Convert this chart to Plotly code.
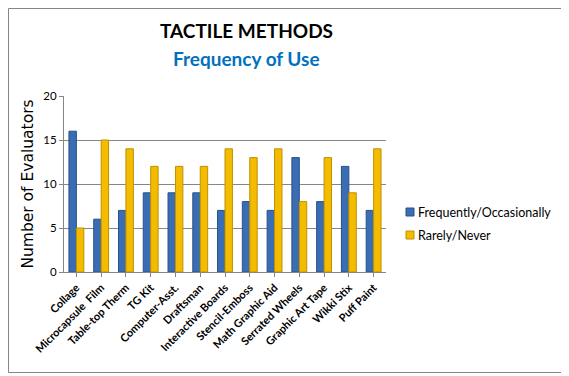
import plotly.graph_objects as go

categories = ["Collage", "Microcapsule  Film", "Table-top Therm", "TG Kit", "Computer-Asst.",
              "Draftsman", "Interactive Boards", "Stencil-Emboss", "Math Graphic Aid",
              "Serrated Wheels", "Graphic Art Tape", "Wikki Stix", "Puff Paint"]
series_names = ["Frequently/Occasionally", "Rarely/Never"]
frequent = [16, 6, 7, 9, 9, 9, 7, 8, 7, 13, 8, 12, 7]
rarely = [5, 15, 14, 12, 12, 12, 14, 13, 14, 8, 13, 9, 14]
y_ticks = [0, 5, 10, 15, 20]

colors = ["#3A6DB3", "#F3BC00"]
edges = ["#27518A", "#C09000"]

# page is rendered with an 8px body margin, so figure coords = page coords - 8
OFF = 8
W, H = 569 - OFF, 376 - OFF
L, T = 64 - OFF, 96 - OFF
PR, PB = 386 - OFF, 272 - OFF
R, B = W - PR, H - PB
pw, ph = PR - L, PB - T

def px(x):
    return (x - OFF - L) / pw

def py(y):
    return (PB - (y - OFF)) / ph

fig = go.Figure()
for name, vals, c, e in zip(series_names, [frequent, rarely], colors, edges):
    fig.add_trace(go.Bar(x=categories, y=vals, name=name,
                         marker=dict(color=c, line=dict(color=e, width=1))))

shapes = [dict(type="rect", xref="paper", yref="paper",
               x0=px(8.5), x1=px(566.5), y0=py(372.5), y1=py(8.5),
               line=dict(color="#868686", width=1), fillcolor="rgba(0,0,0,0)",
               layer="below")]
annotations = [
    dict(text="<b>TACTILE METHODS</b>", xref="paper", yref="paper",
         x=px(246), y=py(30), xanchor="center", yanchor="middle", showarrow=False,
         font=dict(family="Lato", size=19, color="black")),
    dict(text="<b>Frequency of Use</b>", xref="paper", yref="paper",
         x=px(246), y=py(58), xanchor="center", yanchor="middle", showarrow=False,
         font=dict(family="Lato", size=19, color="#0070C0")),
]
# legend drawn by hand
for i, (name, c, e) in enumerate(zip(series_names, colors, edges)):
    yc = 212 + 23 * i
    shapes.append(dict(type="rect", xref="paper", yref="paper",
                       x0=px(406), x1=px(414), y0=py(yc + 4), y1=py(yc - 4),
                       line=dict(color=e, width=1), fillcolor=c))
    annotations.append(dict(text=name, xref="paper", yref="paper",
                            x=px(416), y=py(yc), xanchor="left", yanchor="middle",
                            showarrow=False,
                            font=dict(family="Lato", size=12.5, color="black")))

fig.update_layout(
    width=W, height=H,
    margin=dict(l=L, r=R, t=T, b=B, autoexpand=False),
    paper_bgcolor="white", plot_bgcolor="white",
    barmode="group", bargap=0.4, bargroupgap=0.0,
    font=dict(family="Lato", color="black"),
    showlegend=False,
    xaxis=dict(tickangle=-45, tickfont=dict(family="Lato", size=11, color="black", weight="bold"),
               showline=True, linecolor="#868686", linewidth=1, ticks="outside", ticklen=4,
               tickcolor="#868686", showgrid=False, automargin=False),
    yaxis=dict(range=[0, 20], tickvals=y_ticks, showgrid=True, gridcolor="#868686",
               gridwidth=1, showline=True, linecolor="#868686", linewidth=1, ticks="outside",
               ticklen=4, tickcolor="#868686", automargin=False, zeroline=False,
               tickfont=dict(family="Lato", size=11.5, color="black"),
               title=dict(text="Number of Evaluators",
                          font=dict(family="DejaVu Sans", size=15.5, color="black"),
                          standoff=5)),
    shapes=shapes,
    annotations=annotations,
)

fig.write_html("out.html")
